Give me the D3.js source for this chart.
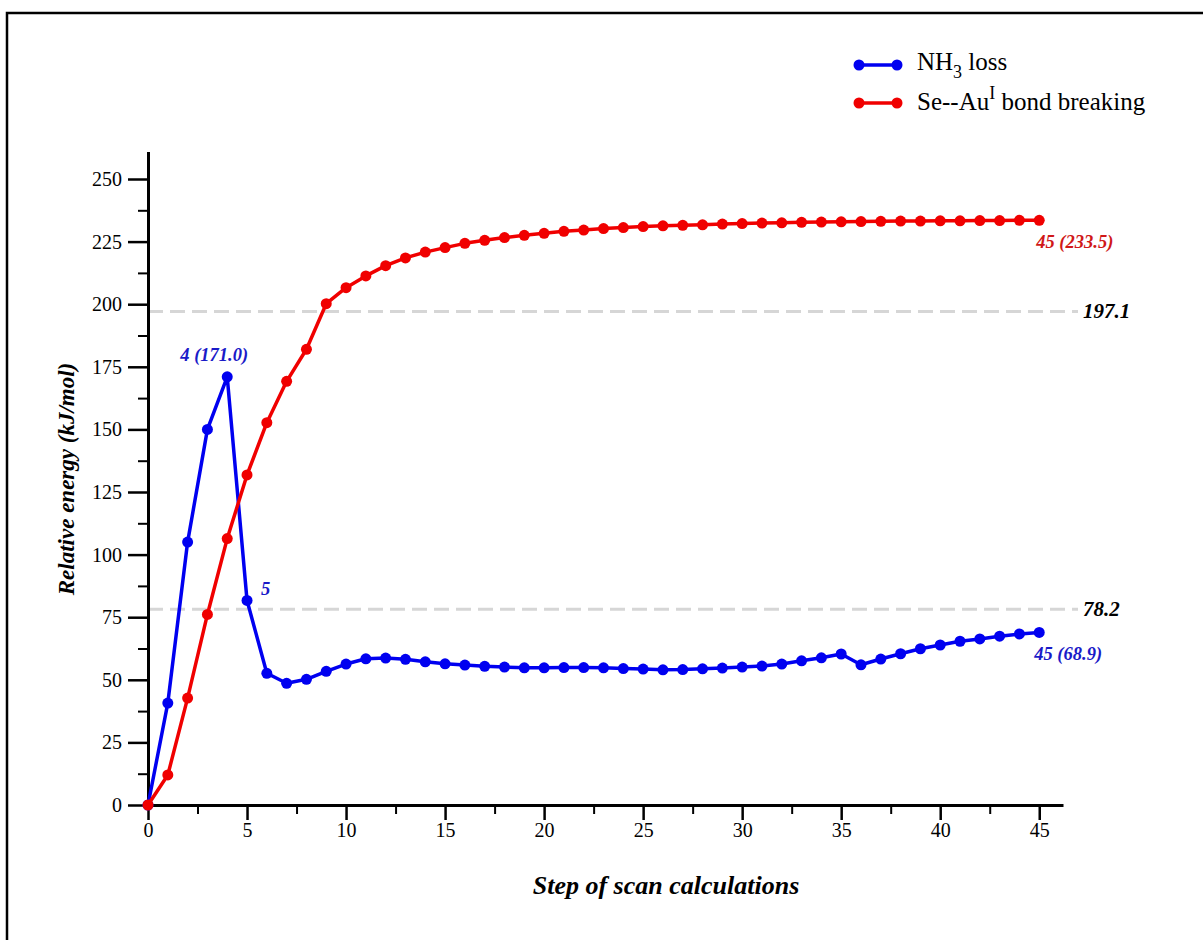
<!DOCTYPE html>
<html lang="en">

<head>
    <meta charset="UTF-8">
    <script src="https://d3js.org/d3.v7.min.js"></script>
    <title>Scan energies</title>
    <style>
        body { margin: 0; background: #fff; }
        text { font-family: "Liberation Serif", "Times New Roman", serif; }
    </style>
</head>

<body>
    <div id="my_chart"></div>
    <script>
        // scan steps 0..45
        var steps = d3.range(0, 46);

        // NH3 loss (kJ/mol)
        var nh3Loss = [0, 40.7, 105.0, 150.0, 171.0, 81.7, 52.6, 48.6, 50.2, 53.4,
            56.3, 58.4, 58.7, 58.2, 57.2, 56.4, 55.9, 55.4, 55.1, 54.8,
            54.8, 54.9, 54.9, 54.8, 54.5, 54.3, 54.0, 54.1, 54.4, 54.7,
            55.1, 55.5, 56.3, 57.6, 58.8, 60.3, 56.0, 58.3, 60.4, 62.4,
            63.9, 65.4, 66.3, 67.4, 68.3, 68.9];

        // Se--Au(I) bond breaking (kJ/mol)
        var seAuBreak = [0, 12.0, 42.7, 76.1, 106.4, 131.8, 152.7, 169.2, 182.0, 200.2,
            206.6, 211.3, 215.4, 218.5, 220.8, 222.6, 224.3, 225.5, 226.6, 227.5,
            228.3, 229.1, 229.6, 230.2, 230.6, 231.0, 231.3, 231.5, 231.7, 232.0,
            232.2, 232.4, 232.5, 232.7, 232.8, 232.9, 233.0, 233.1, 233.2, 233.2,
            233.3, 233.3, 233.4, 233.4, 233.5, 233.5];

        var xTicks = [0, 5, 10, 15, 20, 25, 30, 35, 40, 45];
        var yTicks = [0, 25, 50, 75, 100, 125, 150, 175, 200, 225, 250];
        var refLevels = [197.1, 78.2];

        var W = 1203, H = 940;
        var blue = "#0000f0", red = "#f00000";

        var svg = d3.select("#my_chart")
            .append("svg")
            .attr("width", W)
            .attr("height", H);

        // frame (top and left edges visible)
        svg.append("path")
            .attr("d", "M7,940 L7,13 L1203,13")
            .attr("fill", "none")
            .attr("stroke", "#000")
            .attr("stroke-width", 2.5);

        var x = d3.scaleLinear().domain([0, 46.2]).range([148, 1063]);
        var y = d3.scaleLinear().domain([0, 261]).range([805, 805 - 261 * 2.504]);

        // reference dashed lines
        refLevels.forEach(function (v) {
            svg.append("line")
                .attr("x1", x(0)).attr("x2", 1078)
                .attr("y1", y(v)).attr("y2", y(v))
                .attr("stroke", "#d6d6d6")
                .attr("stroke-width", 3)
                .attr("stroke-dasharray", "15,7");
            svg.append("text")
                .attr("x", 1083).attr("y", y(v) + 7)
                .attr("font-size", 21).attr("font-weight", "bold").attr("font-style", "italic")
                .text(v.toFixed(1));
        });

        // minor ticks
        var xMinor = svg.append("g")
            .attr("transform", "translate(0," + y(0) + ")")
            .call(d3.axisBottom(x).tickValues(d3.range(2.5, 46, 5)).tickSize(9).tickFormat(""));
        var yMinor = svg.append("g")
            .attr("transform", "translate(" + x(0) + ",0)")
            .call(d3.axisLeft(y).tickValues(d3.range(12.5, 260, 25)).tickSize(10).tickFormat(""));
        [xMinor, yMinor].forEach(function (g) {
            g.select(".domain").remove();
            g.selectAll("line").attr("stroke-width", 2);
        });

        // major axes
        var xAxis = svg.append("g")
            .attr("transform", "translate(0," + y(0) + ")")
            .call(d3.axisBottom(x).tickValues(xTicks).tickSize(15).tickSizeOuter(0).tickPadding(8));
        var yAxis = svg.append("g")
            .attr("transform", "translate(" + x(0) + ",0)")
            .call(d3.axisLeft(y).tickValues(yTicks).tickSize(20).tickSizeOuter(0).tickPadding(6));
        [xAxis, yAxis].forEach(function (g) {
            g.select(".domain").attr("stroke-width", 3);
            g.selectAll(".tick line").attr("stroke-width", 2.5);
            g.selectAll("text")
                .attr("font-family", "Liberation Serif, Times New Roman, serif")
                .attr("font-size", 20)
                .attr("fill", "#000");
        });
        xAxis.selectAll(".tick text").attr("dy", "0.45em");

        // axis titles
        svg.append("text")
            .attr("x", 666).attr("y", 894)
            .attr("text-anchor", "middle")
            .attr("font-size", 26).attr("font-weight", "bold").attr("font-style", "italic")
            .text("Step of scan calculations");
        svg.append("text")
            .attr("transform", "translate(74,479) rotate(-90)")
            .attr("text-anchor", "middle")
            .attr("font-size", 23).attr("font-weight", "bold").attr("font-style", "italic")
            .text("Relative energy (kJ/mol)");

        // series
        var series = [
            { name: "nh3", values: nh3Loss, color: blue },
            { name: "seau", values: seAuBreak, color: red }
        ];
        var line = d3.line()
            .x(function (d, i) { return x(steps[i]); })
            .y(function (d) { return y(d); });

        series.forEach(function (s) {
            svg.append("path")
                .datum(s.values)
                .attr("fill", "none")
                .attr("stroke", s.color)
                .attr("stroke-width", 3.5)
                .attr("stroke-linejoin", "round")
                .attr("d", line);
            svg.selectAll(".pt-" + s.name)
                .data(s.values)
                .enter()
                .append("circle")
                .attr("class", "pt-" + s.name)
                .attr("cx", function (d, i) { return x(steps[i]); })
                .attr("cy", function (d) { return y(d); })
                .attr("r", 5.5)
                .attr("fill", s.color);
        });

        // point annotations
        function note(tx, ty, txt, color, anchor) {
            svg.append("text")
                .attr("x", tx).attr("y", ty)
                .attr("text-anchor", anchor || "start")
                .attr("font-size", 18.5).attr("font-weight", "bold").attr("font-style", "italic")
                .attr("fill", color)
                .text(txt);
        }
        note(x(4) - 13, y(nh3Loss[4]) - 16, "4 (171.0)", "#1a1ac8", "middle");
        note(x(5) + 14, y(nh3Loss[5]) - 5, "5", "#1a1ac8");
        note(x(45) - 5, y(nh3Loss[45]) + 28, "45 (68.9)", "#1a1ac8");
        note(x(45) - 3, y(seAuBreak[45]) + 28, "45 (233.5)", "#d01818");

        // legend
        var legend = [
            { color: blue, y: 65 },
            { color: red, y: 103 }
        ];
        legend.forEach(function (l) {
            svg.append("line")
                .attr("x1", 859).attr("x2", 897)
                .attr("y1", l.y).attr("y2", l.y)
                .attr("stroke", l.color).attr("stroke-width", 3.5);
            [859, 897].forEach(function (cx) {
                svg.append("circle").attr("cx", cx).attr("cy", l.y).attr("r", 5.5).attr("fill", l.color);
            });
        });
        var t1 = svg.append("text").attr("x", 917).attr("y", 70).attr("font-size", 25);
        t1.append("tspan").text("NH");
        t1.append("tspan").attr("font-size", 18).attr("dy", 8).text("3");
        t1.append("tspan").attr("dy", -8).text(" loss");
        var t2 = svg.append("text").attr("x", 917).attr("y", 110).attr("font-size", 25);
        t2.append("tspan").text("Se--Au");
        t2.append("tspan").attr("font-size", 18).attr("dy", -11).text("I");
        t2.append("tspan").attr("dy", 11).text(" bond breaking");
    </script>
</body>

</html>
